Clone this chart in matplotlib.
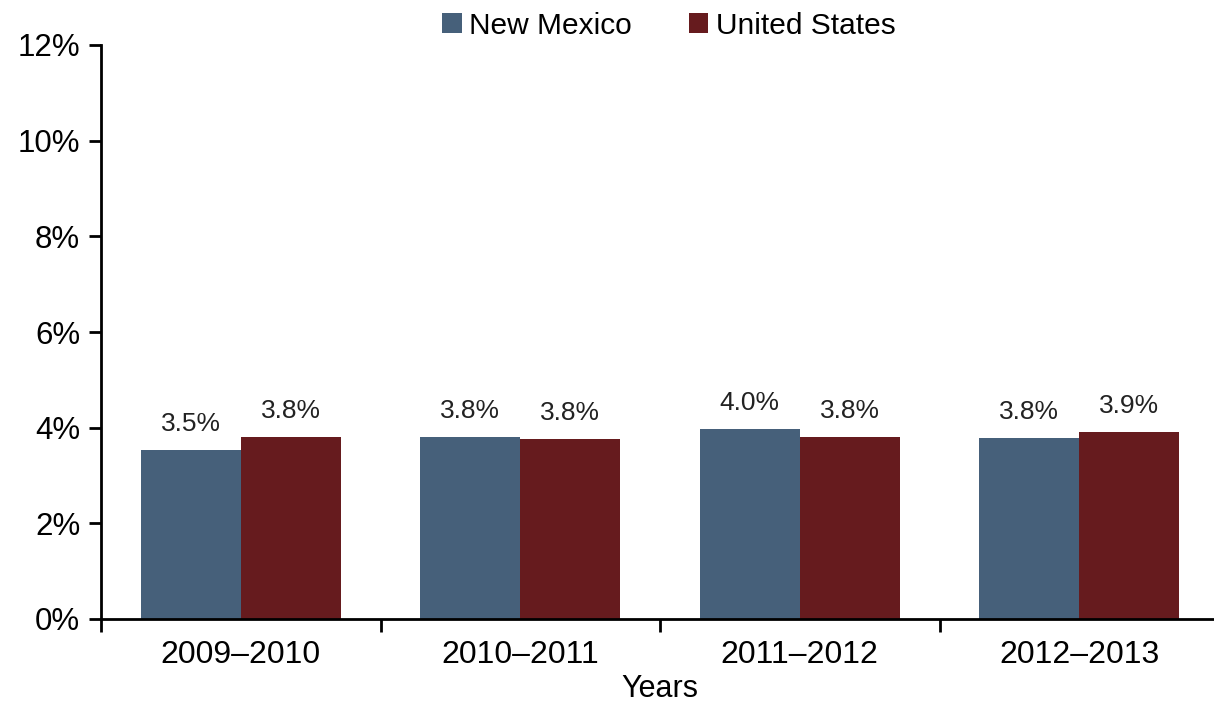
import matplotlib.pyplot as plt
import numpy as np

years = ["2009–2010", "2010–2011", "2011–2012", "2012–2013"]
new_mexico = [3.53, 3.81, 3.97, 3.79]
united_states = [3.81, 3.77, 3.81, 3.91]
nm_labels = ["3.5%", "3.8%", "4.0%", "3.8%"]
us_labels = ["3.8%", "3.8%", "3.8%", "3.9%"]


def main():
    plt.rcParams["font.family"] = ["Liberation Sans", "DejaVu Sans"]
    fig = plt.figure(figsize=(12.14, 7.07), dpi=100)
    ax = fig.add_axes([101 / 1214, 1 - 619 / 707, 1118 / 1214, (619 - 45) / 707])

    x = np.arange(len(years))
    width = 0.358
    b1 = ax.bar(x - width / 2, new_mexico, width, color="#46607a", label="New Mexico")
    b2 = ax.bar(x + width / 2, united_states, width, color="#661b1e", label="United States")

    for bars, labels in ((b1, nm_labels), (b2, us_labels)):
        for bar, lab in zip(bars, labels):
            ax.annotate(lab, (bar.get_x() + bar.get_width() / 2, bar.get_height()),
                        xytext=(0, 10), textcoords="offset points",
                        ha="center", va="bottom", fontsize=19, color="#222222")

    ax.set_ylim(0, 12)
    ax.set_yticks(np.arange(0, 13, 2))
    ax.set_yticklabels([f"{v}%" for v in range(0, 13, 2)], fontsize=22.5)
    ax.set_xlim(-0.5, 3.5)
    ax.set_xticks(x)
    ax.set_xticklabels(years, fontsize=23)
    ax.set_xticks(np.arange(-0.5, 4, 1), minor=True)
    ax.tick_params(axis="x", which="major", length=0, pad=15)
    ax.tick_params(axis="x", which="minor", length=9, width=2, direction="out")
    ax.tick_params(axis="y", length=9, width=2, direction="out", pad=6)
    ax.set_xlabel("Years", fontsize=22, labelpad=3)

    for side in ("top", "right"):
        ax.spines[side].set_visible(False)
    for side in ("left", "bottom"):
        ax.spines[side].set_linewidth(2)

    ax.legend(loc="upper center", bbox_to_anchor=(0.508, 1.105), ncol=2, frameon=False,
              fontsize=21.5, handlelength=0.65, handleheight=0.65, handletextpad=0.25,
              columnspacing=1.9)

    fig.savefig("out.png", dpi=100)


if __name__ == "__main__":
    main()
